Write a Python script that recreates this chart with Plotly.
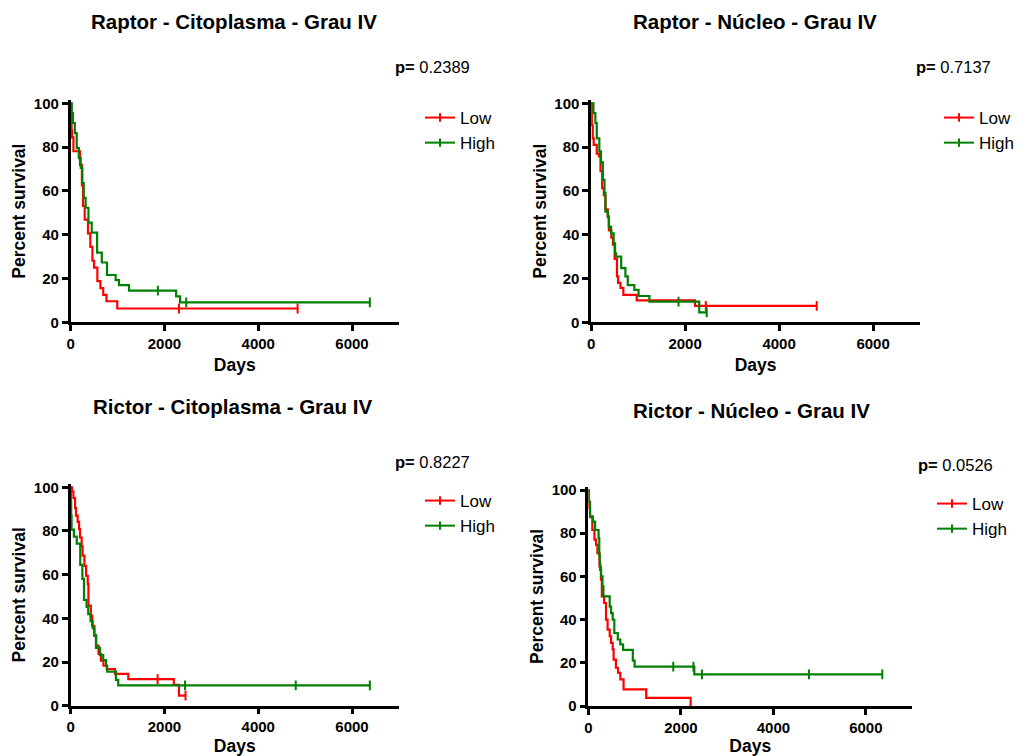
import plotly.graph_objects as go

FONT = "Liberation Sans, Arial, sans-serif"
RED = "#ff0000"
GREEN = "#008000"

titles = ["Raptor - Citoplasma - Grau IV", "Raptor - Núcleo - Grau IV",
          "Rictor - Citoplasma - Grau IV", "Rictor - Núcleo - Grau IV"]
p_values = ["0.2389", "0.7137", "0.8227", "0.0526"]
group_names = ["Low", "High"]
x_ticks = [0, 2000, 4000, 6000]
y_ticks = [0, 20, 40, 60, 80, 100]

# ---- Panel 1: Raptor - Citoplasma ----
p1_low_t = [0, 10, 20, 30, 60, 200, 240, 265, 300, 370, 420, 465, 500, 570, 635, 695, 765, 995]
p1_low_s = [100, 93.8, 87.5, 84.4, 78.1, 71.9, 62.5, 53.1, 46.9, 40.6, 34.4, 28.1, 25, 18.8, 15.6, 12.5, 9.6, 6.3]
p1_low_cens = [2310, 4840]
p1_high_t = [0, 25, 50, 90, 130, 175, 215, 250, 280, 320, 380, 450, 565, 665, 775, 960, 1030, 1245, 2250, 2335]
p1_high_s = [100, 95.5, 91, 86.4, 79.5, 75, 70.5, 63.6, 56.8, 52.3, 45.5, 40.9, 31.8, 27.3, 21.6, 19.3, 17, 14.5, 11.8, 9.1]
p1_high_cens = [1860, 2465, 6380]

# ---- Panel 2: Raptor - Nucleo ----
p2_low_t = [0, 15, 35, 55, 120, 165, 200, 235, 270, 305, 355, 380, 430, 465, 500, 550, 575, 625, 685, 970, 2210]
p2_low_s = [100, 90, 84, 81, 77, 75.7, 69, 61.3, 58, 51.6, 48.4, 42, 38.7, 35.5, 29, 21, 18, 15.7, 12.5, 10, 7.5]
p2_low_cens = [2440, 4800]
p2_high_t = [0, 50, 90, 120, 175, 210, 250, 285, 305, 355, 375, 425, 480, 510, 530, 640, 730, 780, 920, 1010, 1240, 2300]
p2_high_s = [100, 95.5, 91, 84, 78, 73, 65, 59, 50.5, 48, 43.7, 40.6, 36, 31.5, 30, 24.7, 21, 17, 14.8, 12, 9.4, 4.5]
p2_high_cens = [1860, 2460]

# ---- Panel 3: Rictor - Citoplasma ----
p3_low_t = [0, 30, 60, 95, 115, 150, 180, 200, 235, 255, 295, 330, 365, 380, 430, 460, 505, 545, 595, 645, 700, 770, 945, 1230, 2200, 2310]
p3_low_s = [100, 98, 95, 90.5, 87, 84.2, 81, 77, 73, 68.7, 64, 59.5, 55.7, 45.8, 41.2, 36.6, 32, 27.5, 23.7, 20.6, 18.3, 16.8, 14.6, 12.2, 9.5, 4.6]
p3_low_cens = [1855, 2450]
p3_high_t = [0, 5, 12, 20, 70, 130, 205, 250, 285, 340, 375, 425, 470, 505, 540, 625, 695, 755, 780, 965, 1015]
p3_high_s = [100, 93.5, 87, 80.6, 77.4, 74.2, 64.5, 58.1, 48.4, 45.2, 41.9, 38.7, 35.5, 32.3, 26.5, 23.2, 20.9, 18.3, 15.6, 11.8, 9.3]
p3_high_cens = [2440, 4800, 6380]

# ---- Panel 4: Rictor - Nucleo ----
p4_low_t = [0, 10, 35, 85, 130, 165, 195, 240, 270, 290, 340, 380, 415, 460, 490, 525, 545, 595, 640, 690, 760, 1250, 2210]
p4_low_s = [100, 91.7, 87.5, 81.5, 77, 74.6, 70.8, 64.6, 58.5, 50.8, 47.7, 40, 35.4, 32.3, 29.2, 26.2, 21.5, 17.7, 15.4, 12.3, 7.7, 3.8, 0]
p4_low_cens = []
p4_high_t = [0, 10, 35, 95, 145, 220, 235, 245, 255, 275, 305, 325, 460, 490, 525, 560, 635, 690, 750, 960, 1000, 2290]
p4_high_s = [100, 94.6, 87.8, 85.4, 81.5, 77.7, 70, 66, 63, 60, 55.4, 50.8, 46, 43, 40, 33.8, 30.8, 28.5, 26, 21, 18.2, 14.6]
p4_high_cens = [1835, 2270, 2455, 4770, 6355]

panels = [
    ((p1_low_t, p1_low_s, p1_low_cens), (p1_high_t, p1_high_s, p1_high_cens)),
    ((p2_low_t, p2_low_s, p2_low_cens), (p2_high_t, p2_high_s, p2_high_cens)),
    ((p3_low_t, p3_low_s, p3_low_cens), (p3_high_t, p3_high_s, p3_high_cens)),
    ((p4_low_t, p4_low_s, p4_low_cens), (p4_high_t, p4_high_s, p4_high_cens)),
]

W, H = 1019, 756
# plot areas in pixels: (left, right, top, bottom)
boxes = [
    (70.7, 399.3, 100.0, 322.3),
    (591.7, 921.0, 100.0, 322.3),
    (70.7, 399.3, 484.0, 705.7),
    (589.0, 913.0, 486.8, 706.0),
]
title_pos = [(234, 21), (756, 21), (233, 406), (752, 410)]
p_pos = [(393, 67), (915, 67), (393, 462), (917, 465)]
legend_pos = [(420, 100), (940, 100), (420, 483), (932, 486)]


def surv_at(ts, ss, x):
    val = ss[0]
    for t, s in zip(ts, ss):
        if t <= x:
            val = s
    return val


fig = go.Figure()
colors = [RED, GREEN]
for i, panel in enumerate(panels):
    xa = "x" if i == 0 else f"x{i+1}"
    ya = "y" if i == 0 else f"y{i+1}"
    lg = "legend" if i == 0 else f"legend{i+1}"
    for g, (ts, ss, cens) in enumerate(panel):
        end = max([ts[-1]] + list(cens))
        xs = list(ts) + ([end] if end > ts[-1] else [])
        ys = list(ss) + ([ss[-1]] if end > ts[-1] else [])
        fig.add_trace(go.Scatter(
            x=xs, y=ys, mode="lines", line=dict(color=colors[g], width=2.2, shape="hv"),
            xaxis=xa, yaxis=ya, showlegend=False, hoverinfo="skip"))
        if cens:
            fig.add_trace(go.Scatter(
                x=cens, y=[surv_at(ts, ss, c) for c in cens], mode="markers",
                marker=dict(symbol="line-ns", size=7, color=colors[g],
                            line=dict(width=2, color=colors[g])),
                xaxis=xa, yaxis=ya, showlegend=False, hoverinfo="skip"))
        fig.add_trace(go.Scatter(
            x=[None], y=[None], mode="lines+markers", name=group_names[g],
            line=dict(color=colors[g], width=2),
            marker=dict(symbol="line-ns", size=6, color=colors[g],
                        line=dict(width=2, color=colors[g])),
            xaxis=xa, yaxis=ya, legend=lg, legendgroup=f"{i}{g}", showlegend=True))

axis_common = dict(showline=True, linecolor="black", linewidth=2.5, ticks="outside",
                   ticklen=6, tickwidth=2.5, tickcolor="black", showgrid=False,
                   zeroline=False, automargin=False,
                   tickfont=dict(family=FONT, size=15, color="black", weight="bold"))

layout = dict(width=W, height=H, margin=dict(l=0, r=0, t=0, b=0),
              paper_bgcolor="white", plot_bgcolor="white", annotations=[])
for i, (l, r, t, b) in enumerate(boxes):
    sx = "" if i == 0 else str(i + 1)
    layout[f"xaxis{sx}"] = dict(
        axis_common, domain=[l / W, r / W], range=[0, 7000], tickvals=x_ticks,
        anchor=f"y{sx}",
        title=dict(text="Days", standoff=8,
                   font=dict(family=FONT, size=17.5, color="black", weight="bold")))
    layout[f"yaxis{sx}"] = dict(
        axis_common, domain=[1 - b / H, 1 - t / H], range=[0, 101.5], tickvals=y_ticks,
        anchor=f"x{sx}",
        title=dict(text="Percent survival", standoff=4,
                   font=dict(family=FONT, size=17.5, color="black", weight="bold")))
    lx, ly = legend_pos[i]
    layout["legend" if i == 0 else f"legend{i+1}"] = dict(
        x=lx / W, y=1 - ly / H, xanchor="left", yanchor="top", bgcolor="rgba(0,0,0,0)",
        font=dict(family=FONT, size=17, color="black"), tracegroupgap=0, itemwidth=30)
    tx, ty = title_pos[i]
    layout["annotations"].append(dict(
        text=titles[i], x=tx / W, y=1 - ty / H, xref="paper", yref="paper",
        xanchor="center", yanchor="middle", showarrow=False,
        font=dict(family=FONT, size=20.5, color="black", weight="bold")))
    px, py = p_pos[i]
    layout["annotations"].append(dict(
        text=f"<b>p=</b> {p_values[i]}", x=px / W, y=1 - py / H, xref="paper", yref="paper",
        xanchor="left", yanchor="middle", showarrow=False,
        font=dict(family=FONT, size=16.5, color="black")))

fig.update_layout(**layout)
fig.write_html("out.html")
